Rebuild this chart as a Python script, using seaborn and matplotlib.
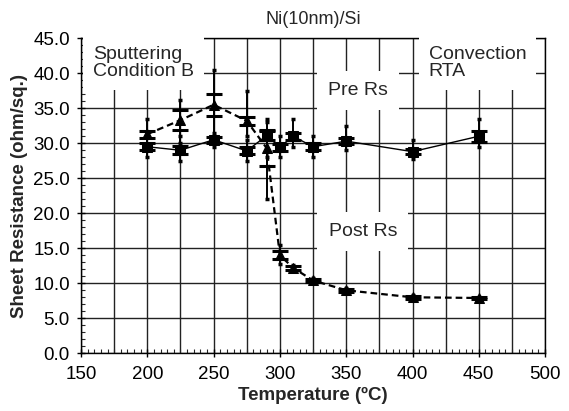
import numpy as np
import pandas as pd
import matplotlib
matplotlib.use("Agg")
import matplotlib.pyplot as plt
import seaborn as sns
from matplotlib.ticker import MultipleLocator

# ---- data ----
temps = [200, 225, 250, 275, 290, 300, 310, 325, 350, 400, 450]
pre_rs = [29.5, 29.0, 30.5, 28.9, 31.1, 29.4, 31.0, 29.5, 30.3, 28.8, 31.0]
pre_sd = [0.5, 0.6, 0.4, 0.5, 0.6, 0.5, 0.5, 0.5, 0.4, 0.4, 0.8]
pre_min = [28.0, 27.5, 29.5, 27.5, 28.0, 28.0, 29.5, 28.0, 29.0, 27.8, 29.5]
pre_max = [31.0, 31.0, 31.5, 30.5, 33.5, 31.0, 33.5, 31.0, 32.5, 30.5, 33.5]

post_rs = [31.3, 33.3, 35.5, 33.2, 29.3, 14.0, 12.2, 10.4, 9.0, 8.0, 7.9]
post_sd = [0.5, 1.4, 1.6, 0.6, 2.6, 0.6, 0.3, 0.2, 0.2, 0.2, 0.2]
post_min = [29.0, 30.0, 31.0, 31.0, 22.0, 12.8, 11.7, 10.0, 8.7, 7.7, 7.6]
post_max = [33.5, 36.2, 40.5, 37.5, 33.0, 15.5, 12.6, 10.7, 9.3, 8.3, 8.1]

x_ticks = [150, 200, 250, 300, 350, 400, 450, 500]
y_ticks = [0, 5, 10, 15, 20, 25, 30, 35, 40, 45]

df = pd.DataFrame({"T": temps * 2,
                   "Rs": pre_rs + post_rs,
                   "kind": ["Pre Rs"] * len(temps) + ["Post Rs"] * len(temps)})

sns.set_style("white")
plt.rcParams['font.family'] = ['Liberation Sans', 'DejaVu Sans']

fig = plt.figure(figsize=(5.69, 4.11), dpi=100)
ax = fig.add_axes([0.1424, 0.1404, 0.8156, 0.7666])

# grid
ax.set_axisbelow(True)
ax.grid(True, which="major", color="#222222", linewidth=1.0)

sns.lineplot(data=df[df.kind == "Pre Rs"], x="T", y="Rs", ax=ax, color="black",
             linewidth=1.0, marker="s", markersize=6.5, markeredgecolor="black",
             legend=False, zorder=3)
sns.lineplot(data=df[df.kind == "Post Rs"], x="T", y="Rs", ax=ax, color="black",
             linewidth=1.6, marker="^", markersize=6.5, markeredgecolor="black",
             legend=False, zorder=3)
ax.lines[-1].set_dashes((3, 1.8))

for mean, sd, lo, hi in [(pre_rs, pre_sd, pre_min, pre_max),
                         (post_rs, post_sd, post_min, post_max)]:
    mean = np.array(mean); lo = np.array(lo); hi = np.array(hi); sd = np.array(sd)
    ax.errorbar(temps, mean, yerr=[mean - lo, hi - mean], fmt="none",
                ecolor="black", elinewidth=1.4, capsize=1.5, capthick=2.5, zorder=2)
    ax.errorbar(temps, mean, yerr=sd, fmt="none", ecolor="black",
                elinewidth=1.4, capsize=6, capthick=2.2, zorder=2)

ax.set_xlim(150, 500)
ax.set_ylim(0, 45)
ax.set_xticks(x_ticks)
ax.set_yticks(y_ticks)
ax.set_yticklabels([f"{v:.1f}" for v in y_ticks])
ax.xaxis.set_minor_locator(MultipleLocator(5))
ax.yaxis.set_minor_locator(MultipleLocator(1))
# grid every 25 in x
for xv in np.arange(175, 500, 50):
    ax.axvline(xv, color="#222222", linewidth=1.0, zorder=0.5)

ax.tick_params(axis="both", which="major", direction="inout", length=6,
               width=1, labelsize=13.5, colors="black", left=True, bottom=True)
ax.tick_params(axis="x", which="major", pad=6)
ax.tick_params(axis="y", which="major", pad=5)
ax.tick_params(axis="both", which="minor", direction="in", length=3,
               width=0.8, left=True, bottom=True)
for s in ax.spines.values():
    s.set_color("black")
    s.set_linewidth(1.0)

ax.set_xlabel("Temperature (ºC)", fontsize=13.5, fontweight="bold", labelpad=3)
ax.set_ylabel("Sheet Resistance (ohm/sq.)", fontsize=13.5, fontweight="bold", labelpad=4)
ax.set_title("Ni(10nm)/Si", fontsize=13, pad=10)

ax.text(159, 43.9, "Sputtering\nCondition B", fontsize=14, va="top", ha="left",
        bbox=dict(facecolor="white", edgecolor="none", pad=7), zorder=4,
        linespacing=1.0)
ax.text(412.3, 43.9, "Convection\nRTA", fontsize=14, va="top", ha="left",
        bbox=dict(facecolor="white", edgecolor="none", pad=7), zorder=4,
        linespacing=1.0)
ax.text(359, 37.5, "Pre Rs", fontsize=14, va="center", ha="center",
        bbox=dict(facecolor="white", edgecolor="none", pad=8), zorder=4)
ax.text(362.5, 17.4, "Post Rs", fontsize=14, va="center", ha="center",
        bbox=dict(facecolor="white", edgecolor="none", pad=8), zorder=4)

fig.savefig("out.png", dpi=100)
